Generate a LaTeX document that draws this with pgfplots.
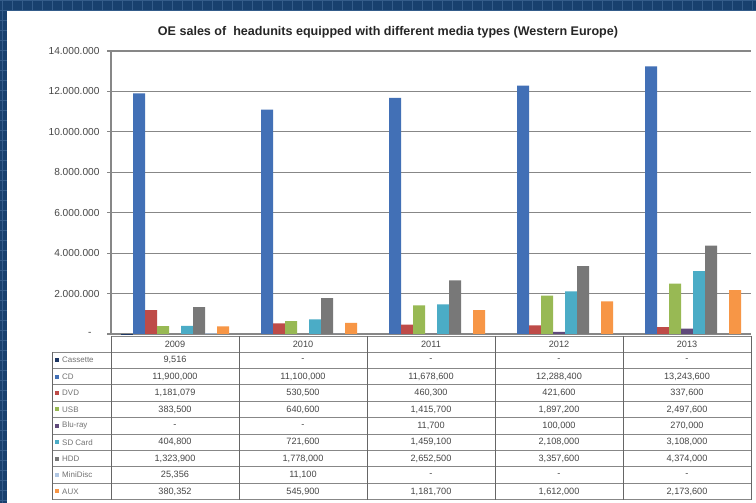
\documentclass[border=0pt]{standalone}
\usepackage{pgfplots}
\pgfplotsset{compat=1.18}
\usepackage{fontspec}
\setmainfont{Liberation Sans}
\setsansfont{Liberation Sans}
\definecolor{bgblue}{RGB}{24,64,110}
\definecolor{gridblue}{RGB}{52,92,138}
\definecolor{cCass}{RGB}{31,56,100}
\definecolor{cCD}{RGB}{66,112,182}
\definecolor{cDVD}{RGB}{190,75,72}
\definecolor{cUSB}{RGB}{152,185,84}
\definecolor{cBlu}{RGB}{96,74,123}
\definecolor{cSD}{RGB}{75,172,198}
\definecolor{cHDD}{RGB}{120,120,120}
\definecolor{cMD}{RGB}{176,198,226}
\definecolor{cAUX}{RGB}{247,150,70}
\definecolor{lgray}{RGB}{135,135,135}
\definecolor{txt}{RGB}{70,70,70}
\newcommand\tv{\fontsize{9.2}{10}\selectfont}
\newcommand\tl{\fontsize{8}{9}\selectfont}
\newcommand\tabrow[8]{%
  \pgfmathsetmacro\yy{503-352-16.4*(#1-0.5)}%
  \fill[#3] (55,\yy-2) rectangle ++(4,4);%
  \node[anchor=west,font=\tl,text=black!55,inner sep=0pt] at (62,\yy) {#2};%
  \node[font=\tv,text=txt] at (175,\yy) {#4};%
  \node[font=\tv,text=txt] at (303,\yy) {#5};%
  \node[font=\tv,text=txt] at (431,\yy) {#6};%
  \node[font=\tv,text=txt] at (559,\yy) {#7};%
  \node[font=\tv,text=txt] at (687,\yy) {#8};%
}
\begin{document}
\begin{tikzpicture}[x=1bp,y=1bp]
\path[use as bounding box] (0,0) rectangle (756,503);
\fill[bgblue] (0,0) rectangle (756,503);
\foreach \i in {2,12,...,752} \draw[gridblue,line width=0.6bp] (\i,0) -- (\i,503);
\foreach \j in {3,13,...,503} \draw[gridblue,line width=0.6bp] (0,\j) -- (756,\j);
\fill[white] (7,0) rectangle (756,492);
\node[font=\fontsize{12.6}{14}\selectfont\bfseries,text=black!85] at (388,471)
  {OE sales of\ \ headunits equipped with different media types (Western Europe)};
\begin{axis}[
  at={(111bp,169bp)}, anchor=south west,
  scale only axis, width=640bp, height=283bp,
  ybar=0pt, bar width=12bp,
  xmin=-0.5, xmax=4.5, ymin=0, ymax=14000000,
  xtick=\empty,
  ytick={0,2000000,4000000,6000000,8000000,10000000,12000000,14000000},
  yticklabels={{-\hspace*{8bp}},2.000.000,4.000.000,6.000.000,8.000.000,10.000.000,12.000.000,14.000.000},
  scaled y ticks=false,
  ymajorgrids, grid style={lgray,line width=1.1bp},
  axis x line=bottom, axis y line=left,
  axis line style={lgray,line width=1.1bp,-},
  tick align=outside, major tick length=4bp,
  tick style={lgray,line width=1.1bp},
  yticklabel style={font=\fontsize{10.2}{11}\selectfont,text=txt,xshift=-4bp},
  clip=false,
]
\addplot[fill=cCass,draw=none] coordinates {(0,9516)};
\addplot[fill=cCD,draw=none] coordinates {(0,11900000) (1,11100000) (2,11678600) (3,12288400) (4,13243600)};
\addplot[fill=cDVD,draw=none] coordinates {(0,1181079) (1,530500) (2,460300) (3,421600) (4,337600)};
\addplot[fill=cUSB,draw=none] coordinates {(0,383500) (1,640600) (2,1415700) (3,1897200) (4,2497600)};
\addplot[fill=cBlu,draw=none] coordinates {(2,11700) (3,100000) (4,270000)};
\addplot[fill=cSD,draw=none] coordinates {(0,404800) (1,721600) (2,1459100) (3,2108000) (4,3108000)};
\addplot[fill=cHDD,draw=none] coordinates {(0,1323900) (1,1778000) (2,2652500) (3,3357600) (4,4374000)};
\addplot[fill=cMD,draw=none] coordinates {(0,25356) (1,11100)};
\addplot[fill=cAUX,draw=none] coordinates {(0,380352) (1,545900) (2,1181700) (3,1612000) (4,2173600)};
\end{axis}
% data table
\begin{scope}[line width=0.9bp]
\draw[lgray] (111,167) -- (751,167);
\foreach \yp in {352,368.4,384.8,401.2,417.6,434,450.4,466.8,483.2,499.6}
  \draw[lgray] (52,503-\yp) -- (751,503-\yp);
\draw[black!60] (52,151) -- (52,3.4);
\foreach \xp in {111,239,367,495,623,751}
  \draw[black!60] (\xp,167) -- (\xp,3.4);
\end{scope}
\foreach \yr [count=\k from 0] in {2009,2010,2011,2012,2013}
  \node[font=\tv,text=txt] at (175+128*\k,159) {\yr};
\tabrow{1}{Cassette}{cCass}{9,516}{-}{-}{-}{-}
\tabrow{2}{CD}{cCD}{11,900,000}{11,100,000}{11,678,600}{12,288,400}{13,243,600}
\tabrow{3}{DVD}{cDVD}{1,181,079}{530,500}{460,300}{421,600}{337,600}
\tabrow{4}{USB}{cUSB}{383,500}{640,600}{1,415,700}{1,897,200}{2,497,600}
\tabrow{5}{Blu-ray}{cBlu}{-}{-}{11,700}{100,000}{270,000}
\tabrow{6}{SD Card}{cSD}{404,800}{721,600}{1,459,100}{2,108,000}{3,108,000}
\tabrow{7}{HDD}{cHDD}{1,323,900}{1,778,000}{2,652,500}{3,357,600}{4,374,000}
\tabrow{8}{MiniDisc}{cMD}{25,356}{11,100}{-}{-}{-}
\tabrow{9}{AUX}{cAUX}{380,352}{545,900}{1,181,700}{1,612,000}{2,173,600}
\end{tikzpicture}
\end{document}
